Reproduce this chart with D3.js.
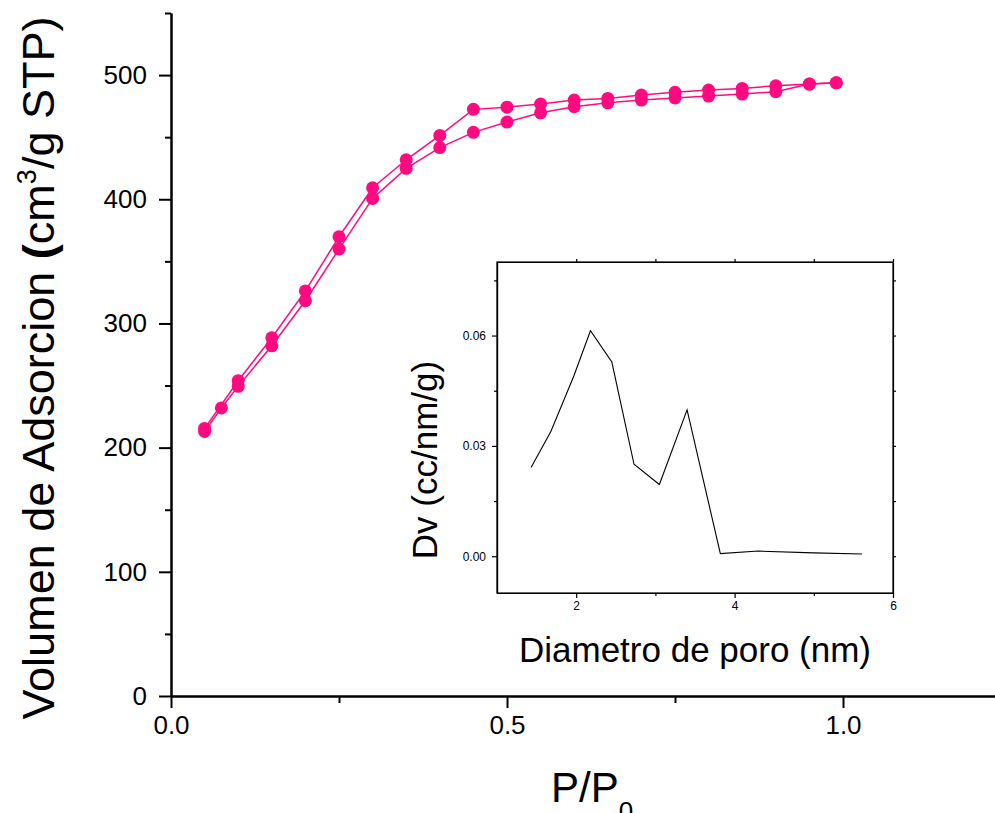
<!DOCTYPE html>
<html>
<head>
<meta charset="utf-8">
<style>
body { margin: 0; background: #fff; }
svg { display: block; font-family: "Liberation Sans", Arial, sans-serif; }
.axis path, .axis line { stroke: #000; }
.main .domain { stroke-width: 2px; }
.main .tick line { stroke-width: 2px; }
.main .tick text { font-size: 26px; fill: #000; }
.inset .domain, .inset .tick line { stroke-width: 1.2px; }
.inset .tick text { font-size: 12px; fill: #000; }
</style>
</head>
<body>
<div id="ch1"></div>
<script src="https://d3js.org/d3.v7.min.js"></script>
<script>

// adsorption branch (lower)
var adsP = [0.05, 0.075, 0.1, 0.15, 0.2, 0.25, 0.3, 0.35, 0.4, 0.45, 0.5, 0.55, 0.6, 0.65, 0.7, 0.75, 0.8, 0.85, 0.9, 0.95, 0.99];
var adsV = [213, 232, 249.4, 282, 318.3, 359.9, 400.7, 424.9, 441.6, 453.9, 462.2, 469.6, 474.5, 477.7, 479.9, 481.6, 483.1, 484.7, 486.6, 492.8, 493.8];
// desorption branch (upper)
var desP = [0.05, 0.1, 0.15, 0.2, 0.25, 0.3, 0.35, 0.4, 0.45, 0.5, 0.55, 0.6, 0.65, 0.7, 0.75, 0.8, 0.85, 0.9, 0.95, 0.99];
var desV = [215.5, 253.9, 288.5, 326.2, 369.8, 409.3, 431.8, 451.4, 472.4, 474.2, 476.7, 479.9, 481.2, 483.9, 486.2, 487.9, 489.3, 491.4, 492.8, 493.8];

// pore size distribution (inset)
var poreD = [1.43, 1.68, 1.97, 2.18, 2.45, 2.73, 3.05, 3.40, 3.82, 4.30, 5.0, 5.61];
var poreDv = [0.0241, 0.0339, 0.049, 0.0613, 0.0528, 0.025, 0.0195, 0.0398, 0.0007, 0.0014, 0.0009, 0.0006];

var mainXTicks = [0, 0.5, 1.0];
var mainXMinor = [0.25, 0.75, 1.25];
var mainYTicks = [0, 100, 200, 300, 400, 500];
var mainYMinor = [50, 150, 250, 350, 450, 550];
var insetXTicks = [2, 4, 6];
var insetXMinor = [3, 5];
var insetYTicks = [0, 0.03, 0.06];
var insetYMinor = [0.015, 0.045, 0.075];

var W = 995, H = 813;
var pink = "#ff0a80";

var svg = d3.select("#ch1").append("svg")
  .attr("width", W)
  .attr("height", H);

var x = d3.scaleLinear().domain([0, 1.25]).range([171, 1011]);
var y = d3.scaleLinear().domain([0, 550]).range([696, 13]);

// minor ticks first, then major axes on top
svg.append("g").attr("class", "axis main")
  .attr("transform", "translate(0,696)")
  .call(d3.axisBottom(x).tickValues(mainXMinor).tickSize(7).tickSizeOuter(0).tickFormat(""));
svg.append("g").attr("class", "axis main")
  .attr("transform", "translate(171,0)")
  .call(d3.axisLeft(y).tickValues(mainYMinor).tickSize(6).tickSizeOuter(0).tickFormat(""));

svg.append("g").attr("class", "axis main")
  .attr("transform", "translate(0,696)")
  .call(d3.axisBottom(x).tickValues(mainXTicks).tickSize(12).tickSizeOuter(0).tickPadding(8)
    .tickFormat(d3.format(".1f")));
svg.append("g").attr("class", "axis main")
  .attr("transform", "translate(171,0)")
  .call(d3.axisLeft(y).tickValues(mainYTicks).tickSize(12).tickSizeOuter(0).tickPadding(12));

// isotherm lines
var line = d3.line()
  .x(function(d) { return x(d[0]); })
  .y(function(d) { return y(d[1]); });

var ads = d3.zip(adsP, adsV);
var des = d3.zip(desP, desV);

[ads, des].forEach(function(s) {
  svg.append("path")
    .datum(s)
    .attr("fill", "none")
    .attr("stroke", pink)
    .attr("stroke-width", 1.5)
    .attr("d", line);
});

[ads, des].forEach(function(s) {
  svg.append("g").selectAll("circle")
    .data(s)
    .enter().append("circle")
    .attr("cx", function(d) { return x(d[0]); })
    .attr("cy", function(d) { return y(d[1]); })
    .attr("r", 6.5)
    .attr("fill", pink);
});

// axis titles
var yt = svg.append("text")
  .attr("transform", "translate(54,368) rotate(-90)")
  .attr("text-anchor", "middle")
  .attr("font-size", 45)
  .attr("fill", "#000");
yt.append("tspan").text("Volumen de Adsorcion ");
yt.append("tspan").attr("font-weight", "bold").text("(");
yt.append("tspan").text("cm");
yt.append("tspan").attr("dy", -18).attr("font-size", 27).text("3");
yt.append("tspan").attr("dy", 18).text("/g STP)");

var xt = svg.append("text")
  .attr("x", 551)
  .attr("y", 802)
  .attr("font-size", 42)
  .attr("fill", "#000");
xt.append("tspan").text("P/P");
xt.append("tspan").attr("dy", 18).attr("font-size", 26).text("0");

// inset
var ix = d3.scaleLinear().domain([1, 6]).range([497, 893]);
var iy = d3.scaleLinear().domain([-0.01, 0.08]).range([593, 262]);

var inset = svg.append("g");

inset.append("g").attr("class", "axis inset")
  .attr("transform", "translate(0,593)")
  .call(d3.axisBottom(ix).tickValues(insetXMinor).tickSize(3).tickSizeOuter(0).tickFormat(""));
inset.append("g").attr("class", "axis inset")
  .attr("transform", "translate(0,262)")
  .call(d3.axisTop(ix).tickValues(insetXMinor.concat(insetXTicks)).tickSize(3).tickSizeOuter(0).tickFormat(""));
inset.append("g").attr("class", "axis inset")
  .attr("transform", "translate(497,0)")
  .call(d3.axisLeft(iy).tickValues(insetYMinor).tickSize(3).tickSizeOuter(0).tickFormat(""));
inset.append("g").attr("class", "axis inset")
  .attr("transform", "translate(893,0)")
  .call(d3.axisRight(iy).tickValues(insetYMinor.concat(insetYTicks)).tickSize(3).tickSizeOuter(0).tickFormat(""));

inset.append("g").attr("class", "axis inset")
  .attr("transform", "translate(0,593)")
  .call(d3.axisBottom(ix).tickValues(insetXTicks).tickSize(5).tickSizeOuter(0).tickPadding(3)
    .tickFormat(d3.format("d")));
inset.append("g").attr("class", "axis inset")
  .attr("transform", "translate(497,0)")
  .call(d3.axisLeft(iy).tickValues(insetYTicks).tickSize(5).tickSizeOuter(0).tickPadding(6)
    .tickFormat(d3.format(".2f")));

inset.append("rect")
  .attr("x", 497).attr("y", 262)
  .attr("width", 893 - 497).attr("height", 593 - 262)
  .attr("fill", "none")
  .attr("stroke", "#000")
  .attr("stroke-width", 1.2);

var iline = d3.line()
  .x(function(d) { return ix(d[0]); })
  .y(function(d) { return iy(d[1]); });

inset.append("path")
  .datum(d3.zip(poreD, poreDv))
  .attr("fill", "none")
  .attr("stroke", "#000")
  .attr("stroke-width", 1.1)
  .attr("d", iline);

inset.append("text")
  .attr("transform", "translate(437,460) rotate(-90)")
  .attr("text-anchor", "middle")
  .attr("font-size", 35)
  .attr("fill", "#000")
  .text("Dv (cc/nm/g)");

inset.append("text")
  .attr("x", 695)
  .attr("y", 662)
  .attr("text-anchor", "middle")
  .attr("font-size", 35)
  .attr("fill", "#000")
  .text("Diametro de poro (nm)");

</script>
</body>
</html>
